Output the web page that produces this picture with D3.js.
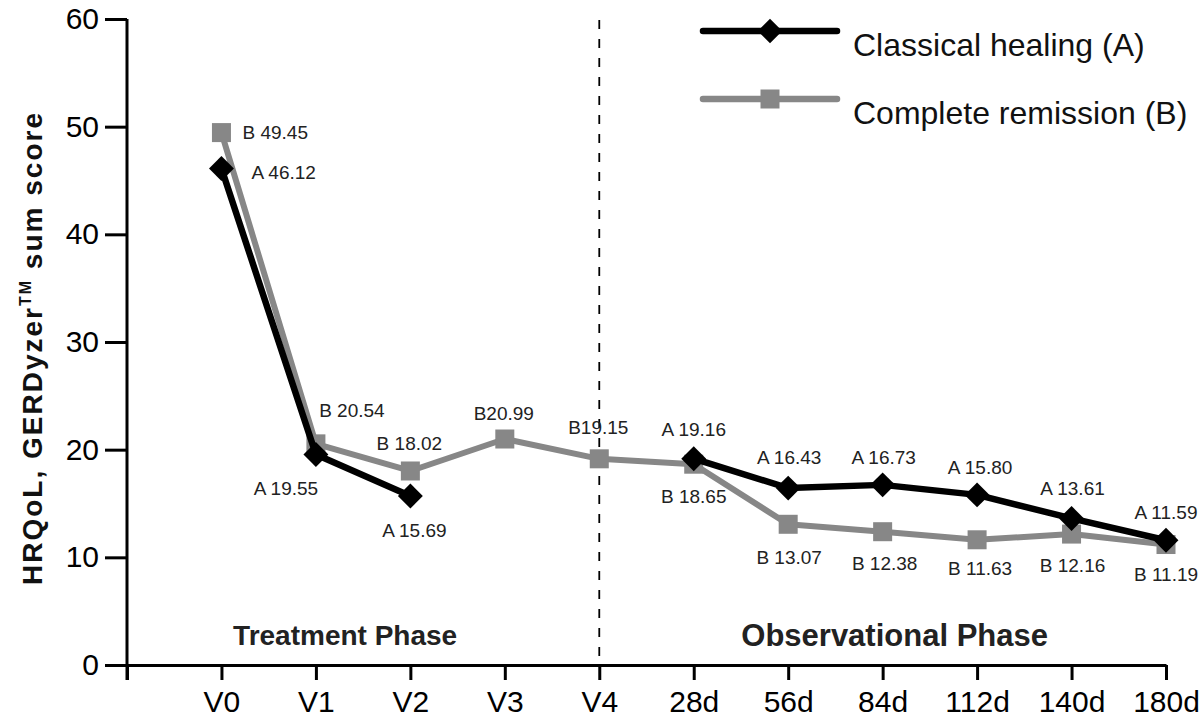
<!DOCTYPE html>
<html lang="en">
<head>
  <meta charset="UTF-8">
  <title>HRQoL GERDyzer sum score</title>
  <script src="https://d3js.org/d3.v7.min.js"></script>
  <style>
    body, html { margin: 0; padding: 0; background: #fff; overflow: hidden; }
    svg { display: block; font-family: "Liberation Sans", Arial, Helvetica, sans-serif; }
    .axis path, .axis line { stroke: #000; stroke-width: 3; }
    .axis text { fill: #000; font-size: 30px; }
    .ptlabel { font-size: 19px; fill: #222; }
    .phase { font-weight: bold; fill: #222; }
  </style>
</head>
<body>
  <div id="chart"></div>

  <script>
    // Data
    const categories = ['', 'V0', 'V1', 'V2', 'V3', 'V4', '28d', '56d', '84d', '112d', '140d', '180d'];
    const seriesA = [null, 46.12, 19.55, 15.69, null, null, 19.16, 16.43, 16.73, 15.80, 13.61, 11.59];
    const seriesB = [null, 49.45, 20.54, 18.02, 20.99, 19.15, 18.65, 13.07, 12.38, 11.63, 12.16, 11.19];
    const seriesNames = ['Classical healing (A)', 'Complete remission (B)'];
    const yTicks = [0, 10, 20, 30, 40, 50, 60];
    const phases = ['Treatment Phase', 'Observational Phase'];

    // label placement per point: [dx, dy, anchor, separator]
    const labelPosA = [null, [30, 4, 'start', ' '], [-30, 34, 'middle', ' '], [4, 34, 'middle', ' '], null, null,
      [0, -30, 'middle', ' '], [1, -31, 'middle', ' '], [1, -28, 'middle', ' '], [3, -28, 'middle', ' '],
      [1, -30, 'middle', ' '], [0, -28, 'middle', ' ']];
    const labelPosB = [null, [21, 0, 'start', ' '], [36, -34, 'middle', ' '], [-1, -28, 'middle', ' '],
      [-1, -26, 'middle', ''], [-1, -32, 'middle', ''], [0, 32, 'middle', ' '], [1, 33, 'middle', ' '],
      [2, 31, 'middle', ' '], [3, 28, 'middle', ' '], [1, 31, 'middle', ' '], [0, 30, 'middle', ' ']];

    const width = 1200, height = 719;
    const svg = d3.select('#chart').append('svg')
      .attr('width', width).attr('height', height);

    const x = d3.scalePoint().domain(categories).range([127, 1166]);
    const y = d3.scaleLinear().domain([0, 60]).range([665, 19]);

    // Phase divider at V4
    svg.append('line')
      .attr('x1', x('V4')).attr('x2', x('V4'))
      .attr('y1', 20).attr('y2', y(0))
      .attr('stroke', '#000').attr('stroke-width', 1.8)
      .attr('stroke-dasharray', '9,10');

    // Axes
    svg.append('g').attr('class', 'axis')
      .attr('transform', `translate(0,${y(0)})`)
      .call(d3.axisBottom(x).tickSize(15).tickSizeOuter(0).tickPadding(11))
      .call(g => g.selectAll('text').attr('dy', '0.71em'));

    svg.append('g').attr('class', 'axis')
      .attr('transform', `translate(${x('')},0)`)
      .call(d3.axisLeft(y).tickValues(yTicks).tickSize(22).tickSizeOuter(0).tickPadding(6))
      .call(g => g.select('.domain').attr('d', `M0,${y(60)}V${y(0) + 15}`));

    // Y axis title
    const yTitle = svg.append('text')
      .attr('transform', `translate(42,${(113 + 585) / 2}) rotate(-90)`)
      .attr('text-anchor', 'middle')
      .attr('font-size', 28).attr('font-weight', 'bold').attr('fill', '#111')
      .attr('textLength', 472).attr('lengthAdjust', 'spacing');
    yTitle.append('tspan').text('HRQoL, GERDyzer');
    yTitle.append('tspan').attr('font-size', 16).attr('dy', -11).text('TM');
    yTitle.append('tspan').attr('dy', 11).text(' sum score');

    // Phase labels
    svg.append('text').attr('class', 'phase')
      .attr('font-size', 28)
      .attr('x', (x('') + x('V4')) / 2 - 18).attr('y', 645)
      .attr('text-anchor', 'middle').text(phases[0]);
    svg.append('text').attr('class', 'phase')
      .attr('font-size', 31)
      .attr('x', (x('V4') + x('180d')) / 2 + 12).attr('y', 646)
      .attr('text-anchor', 'middle').text(phases[1]);

    const line = d3.line()
      .defined(d => d.v != null)
      .x(d => x(d.c)).y(d => y(d.v));

    const ptsA = categories.map((c, i) => ({ c, v: seriesA[i], p: labelPosA[i], tag: 'A' }));
    const ptsB = categories.map((c, i) => ({ c, v: seriesB[i], p: labelPosB[i], tag: 'B' }));

    const grey = '#878787';

    // B series (grey squares) first
    svg.append('path').datum(ptsB)
      .attr('d', line).attr('fill', 'none')
      .attr('stroke', grey).attr('stroke-width', 6).attr('stroke-linejoin', 'round');
    svg.selectAll('.sqB').data(ptsB.filter(d => d.v != null)).enter()
      .append('rect').attr('class', 'sqB')
      .attr('x', d => x(d.c) - 9.5).attr('y', d => y(d.v) - 9.5)
      .attr('width', 19).attr('height', 19).attr('fill', grey);

    // A series (black diamonds)
    svg.append('path').datum(ptsA)
      .attr('d', line).attr('fill', 'none')
      .attr('stroke', '#000').attr('stroke-width', 6.5).attr('stroke-linejoin', 'round');
    svg.selectAll('.dmA').data(ptsA.filter(d => d.v != null)).enter()
      .append('path').attr('class', 'dmA')
      .attr('transform', d => `translate(${x(d.c)},${y(d.v)}) rotate(45)`)
      .attr('d', d3.symbol().type(d3.symbolSquare).size(310))
      .attr('fill', '#000');

    // Point labels
    const allPts = ptsA.concat(ptsB).filter(d => d.v != null);
    svg.selectAll('.ptlabel').data(allPts).enter()
      .append('text').attr('class', 'ptlabel')
      .attr('x', d => x(d.c) + d.p[0])
      .attr('y', d => y(d.v) + d.p[1])
      .attr('dy', '0.36em')
      .attr('text-anchor', d => d.p[2])
      .text(d => d.tag + d.p[3] + d.v.toFixed(2));

    // Legend
    const legend = svg.append('g');
    const legItems = [
      { name: seriesNames[0], color: '#000', marker: 'diamond', ly: 31, ty: 56 },
      { name: seriesNames[1], color: grey, marker: 'square', ly: 99, ty: 124 }
    ];
    legItems.forEach(it => {
      legend.append('line')
        .attr('x1', 703).attr('x2', 837).attr('y1', it.ly).attr('y2', it.ly)
        .attr('stroke', it.color).attr('stroke-width', 6.5).attr('stroke-linecap', 'round');
      if (it.marker === 'diamond') {
        legend.append('path')
          .attr('transform', `translate(770,${it.ly}) rotate(45)`)
          .attr('d', d3.symbol().type(d3.symbolSquare).size(300))
          .attr('fill', it.color);
      } else {
        legend.append('rect')
          .attr('x', 770 - 9.5).attr('y', it.ly - 9.5)
          .attr('width', 19).attr('height', 19).attr('fill', it.color);
      }
      legend.append('text')
        .attr('x', 853).attr('y', it.ty)
        .attr('font-size', 32).attr('fill', '#111')
        .text(it.name);
    });
  </script>
</body>
</html>
